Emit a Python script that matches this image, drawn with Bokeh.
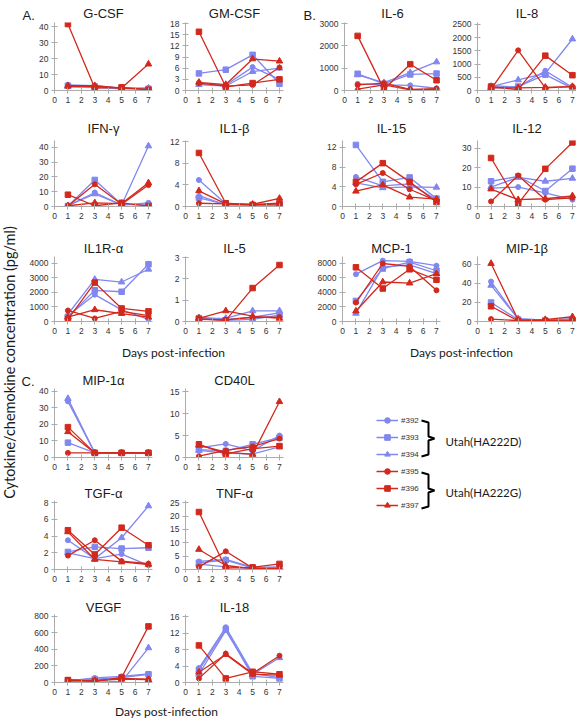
import math
from bokeh.plotting import figure
from bokeh.layouts import row, column
from bokeh.models import Range1d, FixedTicker, Legend, LegendItem
from bokeh.embed import file_html
from bokeh.resources import INLINE
from bokeh.core.properties import value

# ---------------- data ----------------
days = [1, 3, 5, 7]
animals = ["#392", "#393", "#394", "#395", "#396", "#397"]
groups = ["Utah(HA222D)", "Utah(HA222G)"]
y_axis_title = "Cytokine/chemokine concentration (pg/ml)"
x_axis_title = "Days post-infection"
day_ticks = [0, 1, 2, 3, 4, 5, 6, 7]

# each list: animals #392..#397, values at days 1,3,5,7
g_csf = [[3.5, 3.0, 1.5, 1.5], [3.0, 2.5, 1.5, 1.0], [2.5, 2.0, 1.0, 1.5],
         [2.5, 2.5, 1.5, 0.5], [41.5, 1.5, 2.0, 0.5], [3.0, 3.0, 1.5, 16.5]]
gm_csf = [[1.8, 1.5, 6.3, 3.0], [4.6, 5.6, 9.6, 1.8], [1.6, 1.2, 5.1, 6.0],
          [2.0, 1.2, 1.5, 6.2], [15.8, 1.0, 2.0, 3.0], [2.2, 1.6, 8.5, 7.9]]
il6 = [[300, 250, 230, 100], [750, 300, 720, 760], [700, 350, 800, 1280],
       [250, 330, 50, 80], [2450, 60, 1180, 460], [60, 250, 30, 50]]
il8 = [[180, 130, 750, 120], [100, 150, 600, 80], [150, 400, 650, 1950],
       [50, 1520, 100, 150], [150, 30, 1320, 580], [100, 100, 120, 150]]
ifn_g = [[0.5, 9.5, 1.0, 2.5], [0.3, 18.0, 1.5, 1.0], [0.5, 8.5, 1.0, 41.0],
         [0.3, 15.0, 1.5, 14.5], [8.0, 0.5, 2.5, 0.3], [0.5, 2.5, 2.0, 16.0]]
il1_b = [[4.9, 0.5, 0.3, 0.2], [1.6, 0.4, 0.2, 0.3], [2.0, 0.3, 0.2, 0.1],
         [0.6, 0.5, 0.4, 0.6], [9.9, 0.6, 0.3, 0.5], [2.9, 0.5, 0.4, 1.5]]
il15 = [[6.0, 4.2, 4.6, 1.4], [12.5, 5.0, 5.9, 1.6], [4.8, 3.8, 4.0, 3.9],
        [4.5, 6.8, 3.5, 1.2], [5.0, 8.8, 5.0, 0.9], [3.1, 4.4, 1.9, 1.5]]
il12 = [[9.5, 10.0, 7.0, 3.5], [13.0, 15.5, 8.0, 19.5], [10.0, 15.0, 13.0, 14.5],
        [2.6, 16.0, 3.5, 4.5], [25.0, 1.5, 19.4, 33.0], [9.0, 3.5, 4.0, 5.5]]
il1r_a = [[400, 1850, 800, 150], [300, 2150, 2050, 3950], [500, 2900, 2720, 3600],
          [760, 210, 700, 400], [150, 2680, 900, 700], [300, 810, 550, 300]]
il5 = [[0.2, 0.1, 0.2, 0.4], [0.15, 0.05, 0.1, 0.3], [0.15, 0.15, 0.5, 0.5],
       [0.1, 0.08, 0.2, 0.2], [0.12, 0.05, 1.57, 2.65], [0.15, 0.5, 0.25, 0.15]]
mcp1 = [[6525, 8400, 8300, 7700], [2835, 7300, 8200, 7000], [1125, 7500, 7800, 6600],
        [2610, 8000, 7600, 4300], [7470, 4545, 7200, 5760], [1440, 5450, 5300, 6600]]
mip1b = [[42, 2.5, 1.5, 3.0], [20, 2.0, 1.0, 1.5], [38, 3.0, 1.5, 1.0],
         [2.5, 1.0, 1.0, 1.5], [16, 0.5, 0.5, 0.5], [61, 1.5, 2.0, 5.0]]
mip1a = [[34, 2.8, 2.8, 2.8], [9, 2.8, 2.8, 2.8], [35.7, 2.8, 2.8, 2.8],
         [2.8, 2.8, 2.8, 2.8], [18.4, 2.8, 2.8, 2.8], [15.6, 2.8, 2.8, 2.8]]
cd40l = [[2.2, 3.1, 1.5, 5.0], [1.8, 1.5, 3.0, 4.5], [1.6, 1.0, 0.8, 2.4],
         [0.3, 1.6, 2.5, 4.3], [3.0, 0.8, 2.0, 2.6], [2.8, 1.2, 0.7, 12.7]]
tgf_a = [[3.5, 1.3, 1.85, 0.5], [2.1, 2.7, 2.5, 2.6], [2.0, 1.3, 3.8, 7.6],
         [1.66, 3.5, 1.0, 0.7], [4.7, 1.8, 5.0, 2.9], [4.5, 1.2, 0.9, 0.6]]
tnf_a = [[3.0, 3.8, 0.8, 1.0], [2.5, 3.5, 0.5, 0.8], [2.0, 1.0, 0.3, 0.5],
         [1.0, 6.8, 0.5, 0.3], [21.5, 0.5, 0.8, 2.1], [7.5, 1.5, 0.3, 0.3]]
vegf = [[20, 55, 75, 105], [25, 40, 60, 100], [15, 20, 10, 420],
        [30, 20, 50, 40], [30, 15, 60, 680], [20, 25, 40, 35]]
il18 = [[3.5, 13.4, 2.2, 1.2], [3.0, 12.9, 1.5, 1.0], [2.0, 12.6, 2.0, 6.0],
        [1.0, 7.0, 2.2, 6.5], [9.0, 1.0, 2.6, 2.0], [2.5, 6.8, 2.0, 1.8]]

# ---------------- styling / geometry ----------------
BLUE = "#8087ee"
RED = "#d2291c"
AXIS = "#ababab"
MARKERS = ["circle", "square", "triangle", "circle", "square", "triangle"]
MSIZE = [5, 5.5, 6.5, 5, 5.5, 6.5]
COLORS = [BLUE, BLUE, BLUE, RED, RED, RED]
SANS = "Liberation Sans"
HUMAN = "Lato"

# page coordinates (px): figure top, frame top, frame bottom, figure bottom, title standoff
ROWS = {
    "A1": dict(top=0, ftop=22, fbot=90, bot=113, so=4),
    "A2": dict(top=113, ftop=140, fbot=206, bot=229, so=9),
    "A3": dict(top=229, ftop=256, fbot=321, bot=341, so=2),
    "C1": dict(top=363, ftop=388, fbot=457, bot=477, so=2),
    "C2": dict(top=477, ftop=500, fbot=569, bot=590, so=0),
    "C3": dict(top=590, ftop=614, fbot=682, bot=699, so=0),
}
COLS = {
    1: dict(left=20, fleft=54, fright=152, right=160, xend=7.3),
    2: dict(left=160, fleft=185, fright=283, right=290, xend=7.3),
    3: dict(left=290, fleft=342, fright=440, right=446, xend=7.3),
    4: dict(left=446, fleft=477, fright=576, right=576, xend=7.3),
}


def make_panel(name, data, yend, yticks, rkey, ckey, left=None):
    r = ROWS[rkey]
    c = COLS[ckey]
    lft = c["left"] if left is None else left
    p = figure(width=c["right"] - lft, height=r["bot"] - r["top"],
               x_range=Range1d(0, c["xend"]), y_range=Range1d(0, yend),
               output_backend="svg", toolbar_location=None,
               min_border_left=c["fleft"] - lft,
               min_border_right=c["right"] - c["fright"],
               min_border_top=r["ftop"] - r["top"],
               min_border_bottom=r["bot"] - r["fbot"])
    p.title.text = name
    p.title.align = "center"
    p.title.text_font = SANS
    p.title.text_font_size = "13px"
    p.title.text_font_style = "normal"
    p.title.text_color = "#1a1a1a"
    p.title.standoff = r["so"]
    p.title.offset = 0
    p.grid.visible = False
    p.outline_line_color = None
    for ax in (p.xaxis[0], p.yaxis[0]):
        ax.axis_line_color = AXIS
        ax.major_tick_line_color = AXIS
        ax.minor_tick_line_color = None
        ax.major_tick_in = 3
        ax.major_tick_out = 3
        ax.major_label_standoff = 3
        ax.major_label_text_font = SANS
        ax.major_label_text_font_size = "8.5px"
        ax.major_label_text_color = "#333333"
    p.xaxis.ticker = FixedTicker(ticks=day_ticks)
    p.yaxis.ticker = FixedTicker(ticks=yticks)
    for i, vals in enumerate(data):
        p.line(days, vals, line_color=COLORS[i], line_width=1.3)
        p.scatter(days, vals, marker=MARKERS[i], size=MSIZE[i],
                  fill_color=COLORS[i], line_color=COLORS[i])
    return p


def text_fig(x0, x1, y0, y1, **kw):
    f = figure(width=x1 - x0, height=y1 - y0, x_range=Range1d(x0, x1),
               y_range=Range1d(y1, y0), output_backend="svg",
               toolbar_location=None, x_axis_location=None, y_axis_location=None,
               min_border=0, **kw)
    f.grid.visible = False
    f.outline_line_color = None
    return f


def letter_fig(x0, x1, y0, y1, letter, offset, border_top):
    f = text_fig(x0, x1, y0, y1, min_border_top=border_top)
    f.title.text = letter
    f.title.align = "left"
    f.title.offset = offset
    f.title.standoff = 0
    f.title.text_font = SANS
    f.title.text_font_size = "13px"
    f.title.text_font_style = "normal"
    f.title.text_color = "#1a1a1a"
    return f


# ---------------- panels ----------------
pA1 = [letter_fig(20, 36, 0, 113, "A.", 2, 15),
       make_panel("G-CSF", g_csf, 42.5, [0, 10, 20, 30, 40], "A1", 1, left=36),
       make_panel("GM-CSF", gm_csf, 18.3, [0, 3, 6, 9, 12, 15, 18], "A1", 2),
       letter_fig(290, 316, 0, 113, "B.", 13, 15),
       make_panel("IL-6", il6, 3050, [0, 1000, 2000, 3000], "A1", 3, left=316),
       make_panel("IL-8", il8, 2575, [0, 500, 1000, 1500, 2000, 2500], "A1", 4)]
pA2 = [make_panel("IFN-γ", ifn_g, 44.7, [0, 10, 20, 30, 40], "A2", 1),
       make_panel("IL1-β", il1_b, 12.2, [0, 4, 8, 12], "A2", 2),
       make_panel("IL-15", il15, 13.4, [0, 4, 8, 12], "A2", 3),
       make_panel("IL-12", il12, 34, [0, 10, 20, 30], "A2", 4)]
pA3 = [make_panel("IL1R-α", il1r_a, 4480, [0, 1000, 2000, 3000, 4000], "A3", 1),
       make_panel("IL-5", il5, 3.05, [0, 1, 2, 3], "A3", 2),
       make_panel("MCP-1", mcp1, 8965, [0, 2000, 4000, 6000, 8000], "A3", 3),
       make_panel("MIP-1β", mip1b, 68.4, [0, 20, 40, 60], "A3", 4)]
pC1 = [letter_fig(20, 36, 363, 477, "C.", 1, 23),
       make_panel("MIP-1α", mip1a, 41.8, [0, 10, 20, 30, 40], "C1", 1, left=36),
       make_panel("CD40L", cd40l, 15.7, [0, 5, 10, 15], "C1", 2)]
pC2 = [make_panel("TGF-α", tgf_a, 8.25, [0, 2, 4, 6, 8], "C2", 1),
       make_panel("TNF-α", tnf_a, 25.8, [0, 5, 10, 15, 20, 25], "C2", 2)]
pC3 = [make_panel("VEGF", vegf, 824, [0, 200, 400, 600, 800], "C3", 1),
       make_panel("IL-18", il18, 16.5, [0, 4, 8, 12, 16], "C3", 2)]

# ---------------- free texts ----------------
strip = text_fig(0, 20, 0, 719)
strip.text(x=[9], y=[362], text=[y_axis_title], angle=math.pi / 2,
           text_align="center", text_baseline="middle",
           text_font=value(HUMAN), text_font_size="14.5px", text_color="#1a1a1a")

days_ab = text_fig(20, 576, 341, 363)
days_ab.text(x=[173, 461], y=[352, 352], text=[x_axis_title, x_axis_title],
             text_align="center", text_baseline="middle",
             text_font=value(HUMAN), text_font_size="12px", text_color="#1a1a1a")

days_c = text_fig(20, 290, 699, 719)
days_c.text(x=[166], y=[711], text=[x_axis_title],
            text_align="center", text_baseline="middle",
            text_font=value(HUMAN), text_font_size="12px", text_color="#1a1a1a")

# ---------------- legend ----------------
leg = text_fig(290, 576, 363, 719)
items = []
for i, name in enumerate(animals):
    # proxies: drawn from the data but far outside this figure's visible range
    lr = leg.line(days, g_csf[i], line_color=COLORS[i], line_width=1.5)
    sr = leg.scatter(days, g_csf[i], marker=MARKERS[i], size=MSIZE[i] + 1,
                     fill_color=COLORS[i], line_color=COLORS[i])
    items.append(LegendItem(label=name, renderers=[lr, sr]))
legend = Legend(items=items, location=(86, 207), padding=0, margin=0,
                spacing=3, glyph_height=14, glyph_width=22, label_height=14,
                label_width=10, label_standoff=3, label_text_font=SANS,
                label_text_font_size="8px", label_text_color="#333333",
                border_line_color=None, background_fill_alpha=0)
leg.add_layout(legend)
leg.line([421, 428, 428, 434, 428, 428, 421], [420, 422, 436, 438, 440, 454, 456],
         line_color="black", line_width=2)
leg.line([421, 428, 428, 434, 428, 428, 421], [472, 474, 488, 490, 492, 506, 508],
         line_color="black", line_width=2)
leg.text(x=[445, 445], y=[441, 492], text=groups, text_align="left",
         text_baseline="middle", text_font=value(HUMAN), text_font_size="11.5px",
         text_color="#1a1a1a")

# ---------------- layout ----------------
bottom = row(column(row(*pC1), row(*pC2), row(*pC3), days_c), leg)
main = column(row(*pA1), row(*pA2), row(*pA3), days_ab, bottom)
layout = row(strip, main)

open("out.html", "w").write(file_html(layout, INLINE))
